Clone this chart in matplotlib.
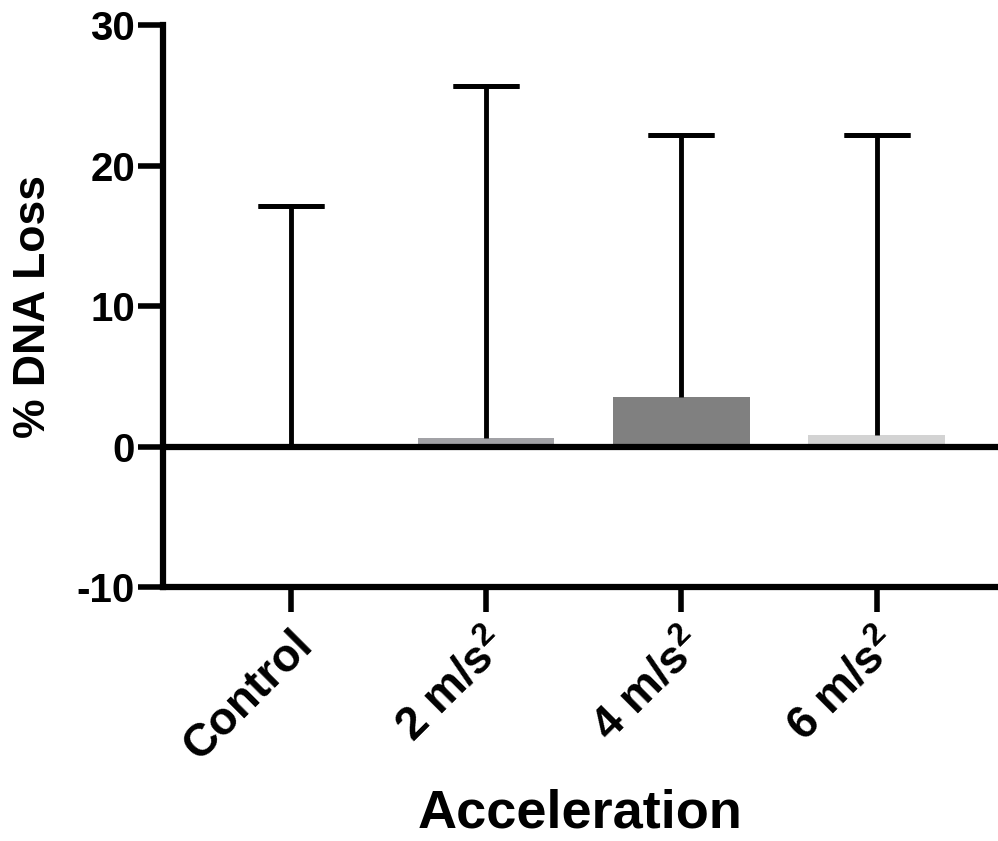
import matplotlib
matplotlib.use("Agg")
from matplotlib import pyplot as plt

plt.rcParams['font.family'] = ['Liberation Sans', 'DejaVu Sans']
plt.rcParams['font.weight'] = 'bold'
plt.rcParams['axes.labelweight'] = 'bold'
plt.rcParams['axes.unicode_minus'] = False
plt.rcParams['mathtext.fontset'] = 'custom'
plt.rcParams['mathtext.rm'] = 'Liberation Sans:bold'
plt.rcParams['mathtext.default'] = 'regular'

# data
groups = ['Control', r'2 m/s$^{2}$', r'4 m/s$^{2}$', r'6 m/s$^{2}$']
means = [-0.15, 0.6, 3.5, 0.85]
upper_err = [17.25, 25.1, 18.7, 21.35]
bar_colors = ['#000000', '#A2A2A6', '#808080', '#D3D3D3']

fig = plt.figure(figsize=(9.98, 8.41), dpi=100)
ax = fig.add_axes([0.163, 0.302, 0.837, 0.668])

x = list(range(len(groups)))
ax.bar(x, means, width=0.7, color=bar_colors, zorder=2)

# upward-only error bars: stem from bar top, cap only at the top
tops = [m + e for m, e in zip(means, upper_err)]
ax.vlines(x, means, tops, color='black', linewidth=3.5, zorder=3)
ax.errorbar(x, tops, fmt='none', yerr=0, ecolor='black', capsize=24, capthick=3.5,
            elinewidth=0, zorder=3)

ax.axhline(0, color='black', linewidth=4.5, zorder=4)

ax.set_xlim(-0.655, 3.62)
ax.set_ylim(-10, 30)
ax.set_yticks([-10, 0, 10, 20, 30])
ax.set_xticks(x)
ax.set_xticklabels(groups, rotation=45, ha='right', rotation_mode='anchor', fontsize=33)
ax.tick_params(axis='y', labelsize=29, width=4, length=18, pad=2)
ax.tick_params(axis='x', width=4, length=18, pad=8)

for side in ['top', 'right']:
    ax.spines[side].set_visible(False)
for side in ['left', 'bottom']:
    ax.spines[side].set_linewidth(4.5)

ax.set_ylabel('% DNA Loss', fontsize=32, labelpad=16)
ax.set_xlabel('Acceleration', fontsize=39, labelpad=14)

fig.savefig('out.png', dpi=100)
